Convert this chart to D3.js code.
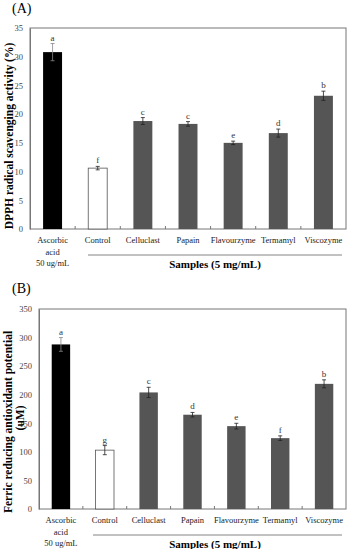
<!DOCTYPE html>
<html><head><meta charset="utf-8">
<script src="https://cdn.jsdelivr.net/npm/d3@7"></script>
<style>body{margin:0;background:#fff}svg{display:block}text{font-family:"Liberation Serif","DejaVu Serif",serif}</style>
</head><body><svg id="c" width="350" height="549"></svg>
<script>
const categories = ["Ascorbic acid", "Control", "Celluclast", "Papain", "Flavourzyme", "Termamyl", "Viscozyme"];
const dpphValues = [30.8, 10.6, 18.8, 18.3, 15.0, 16.7, 23.2];
const dpphErrors = [1.5, 0.3, 0.6, 0.4, 0.3, 0.7, 0.8];
const dpphLetters = ["a", "f", "c", "c", "e", "d", "b"];
const dpphTicks = [0, 5, 10, 15, 20, 25, 30, 35];
const frapValues = [288, 103, 204, 165, 145, 124, 219];
const frapErrors = [12, 8, 9, 4, 5, 4, 7];
const frapLetters = ["a", "g", "c", "d", "e", "f", "b"];
const frapTicks = [0, 50, 100, 150, 200, 250, 300, 350];
const barColors = ["#000000", "#ffffff", "#555555", "#555555", "#555555", "#555555", "#555555"];

const svg = d3.select("#c");

function panel(opt) {
  const g = svg.append("g");
  const x = d3.scaleBand().domain(categories).range([opt.left, opt.right]).paddingInner(0.58).paddingOuter(0.29);
  const xb = d3.scaleBand().domain(categories).range([opt.left, opt.right]);
  const y = d3.scaleLinear().domain([0, opt.max]).range([opt.bottom, opt.top]);

  g.append("text").attr("x", 12).attr("y", opt.labelY).attr("font-size", 14).text(opt.panelLabel);

  g.append("rect").attr("x", opt.left).attr("y", opt.top).attr("width", opt.right - opt.left)
    .attr("height", opt.bottom - opt.top).attr("fill", "none").attr("stroke", "#777").attr("stroke-width", 1);

  const ya = d3.axisLeft(y).tickValues(opt.ticks).tickSize(0).tickPadding(7);
  const yg = g.append("g").attr("transform", `translate(${opt.left},0)`).call(ya);
  yg.select(".domain").attr("stroke", "#777");
  yg.selectAll("text").attr("font-size", 8.5).attr("fill", "#444").attr("font-family", "Liberation Serif");

  const bounds = categories.slice(1).map(c => xb(c));
  g.selectAll(".xt").data(bounds).enter().append("line")
    .attr("x1", d => d).attr("x2", d => d).attr("y1", opt.bottom).attr("y2", opt.bottom - 3)
    .attr("stroke", "#777");

  g.selectAll(".bar").data(opt.values).enter().append("rect")
    .attr("x", (d, i) => x(categories[i])).attr("width", x.bandwidth())
    .attr("y", d => y(d)).attr("height", d => y(0) - y(d))
    .attr("fill", (d, i) => barColors[i])
    .attr("stroke", (d, i) => i === 1 ? "#555" : "none").attr("stroke-width", 0.8);

  opt.values.forEach((v, i) => {
    const cx = x(categories[i]) + x.bandwidth() / 2;
    const e = opt.errors[i];
    const col = i === 0 ? "#888" : "#222";
    g.append("line").attr("x1", cx).attr("x2", cx).attr("y1", y(v - e)).attr("y2", y(v + e)).attr("stroke", col).attr("stroke-width", 0.8);
    g.append("line").attr("x1", cx - 2).attr("x2", cx + 2).attr("y1", y(v + e)).attr("y2", y(v + e)).attr("stroke", col).attr("stroke-width", 0.8);
    g.append("line").attr("x1", cx - 2).attr("x2", cx + 2).attr("y1", y(v - e)).attr("y2", y(v - e)).attr("stroke", col).attr("stroke-width", 0.8);
    g.append("text").attr("x", cx).attr("y", y(v + e) - 3).attr("text-anchor", "middle")
      .attr("font-size", 9).attr("fill", "#333").text(opt.letters[i]);
  });

  categories.forEach((c, i) => {
    const cx = xb(c) + xb.bandwidth() / 2;
    const lines = i === 0 ? ["Ascorbic", "acid", "50 ug/mL"] : [c];
    lines.forEach((t, k) => {
      g.append("text").attr("x", cx).attr("y", opt.bottom + 14 + k * 11.5).attr("text-anchor", "middle")
        .attr("font-size", 8.5).attr("fill", "#222").text(t);
    });
  });

  g.append("line").attr("x1", opt.lineX1).attr("x2", 342).attr("y1", opt.bottom + 26).attr("y2", opt.bottom + 26)
    .attr("stroke", "#666").attr("stroke-width", 0.8);
  g.append("text").attr("x", 215).attr("y", opt.bottom + 39).attr("text-anchor", "middle")
    .attr("font-size", 11).attr("font-weight", "bold").text("Samples (5 mg/mL)");

  opt.yTitle.forEach((t, k) => {
    g.append("text").attr("transform", `translate(${opt.titleX[k]},${opt.titleY[k]}) rotate(-90)`)
      .attr("text-anchor", "middle").attr("dy", "0.35em").attr("font-size", 11.5).attr("font-weight", "bold").text(t);
  });
}

panel({ panelLabel: "(A)", labelY: 13, left: 30, right: 346, top: 28, bottom: 229, max: 35,
  ticks: dpphTicks, values: dpphValues, errors: dpphErrors, letters: dpphLetters,
  lineX1: 88, yTitle: ["DPPH radical scavenging activity (%)"], titleX: [9], titleY: [136] });

panel({ panelLabel: "(B)", labelY: 293, left: 39, right: 346, top: 309, bottom: 509, max: 350,
  ticks: frapTicks, values: frapValues, errors: frapErrors, letters: frapLetters,
  lineX1: 93, yTitle: ["Ferric reducing antioxidant potential", "(uM)"], titleX: [8, 20], titleY: [422, 418] });
</script></body></html>
